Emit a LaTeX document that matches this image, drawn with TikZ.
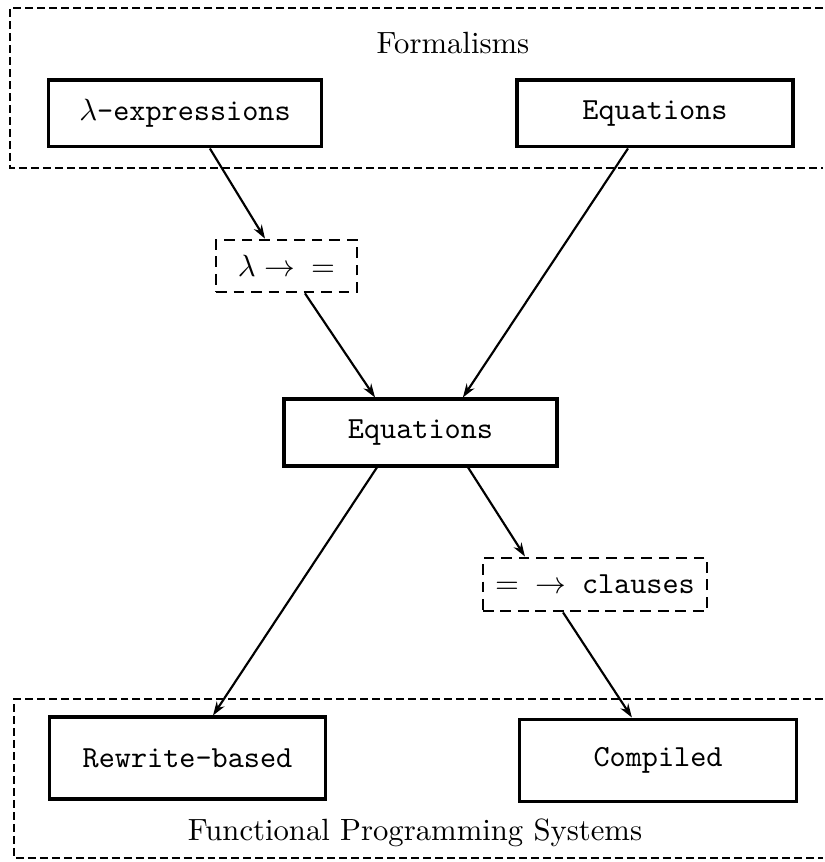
\documentclass[tikz,border=0pt]{standalone}
\usetikzlibrary{arrows.meta}
\begin{document}
\begin{tikzpicture}[x=0.3257pt, y=-0.3257pt,
  box/.style={draw, line width=1pt, inner sep=0pt, font=\ttfamily},
  stagebox/.style={draw, line width=0.9pt, dash pattern=on 3.5pt off 2.2pt, inner sep=0pt, font=\ttfamily},
  frame/.style={line width=0.7pt, dash pattern=on 2.6pt off 1.3pt},
  arr/.style={-{Stealth[length=4.5pt,width=3pt]}, line width=0.7pt}]
\useasboundingbox (0,0) rectangle (824,862);
\draw[frame] (823,8) -- (10,8) -- (10,168) -- (823,168);
\draw[frame] (823,699) -- (14,699) -- (14,858) -- (823,858);
\node (formal) at (453,43){Formalisms};
\node (fps) at (415,833){Functional Programming Systems};
\node[box, minimum width=89.2pt, minimum height=21.8pt] (lexpr) at (185,113.5){$\lambda$-expressions};
\node[box, minimum width=89.9pt, minimum height=21.8pt] (eqtop) at (655,113.5){Equations};
\node[stagebox, minimum width=45.9pt, minimum height=16.9pt] (ltoeq) at (286.5,266){$\lambda\rightarrow$\ $=$};
\node[box, minimum width=88.9pt, minimum height=21.8pt] (eqmid) at (420.5,432.5){Equations};
\node[stagebox, minimum width=73pt, minimum height=17.3pt] (eqtocl) at (595,584.5){$=$\ $\rightarrow$\ clauses};
\node[box, minimum width=89.6pt, minimum height=26.7pt] (rewrite) at (187.5,758){Rewrite-based};
\node[box, minimum width=90.5pt, minimum height=27pt] (compiled) at (658,760.5){Compiled};
\draw[arr] ([xshift=8.1pt]lexpr.south) -- ([xshift=-7pt]ltoeq.north);
\draw[arr] ([xshift=6pt]ltoeq.south) -- ([xshift=-14.8pt]eqmid.north);
\draw[arr] ([xshift=-8.8pt]eqtop.south) -- ([xshift=13.8pt]eqmid.north);
\draw[arr] ([xshift=-14.2pt]eqmid.south) -- ([xshift=8.3pt]rewrite.north);
\draw[arr] ([xshift=15.5pt]eqmid.south) -- ([xshift=-22.8pt]eqtocl.north);
\draw[arr] ([xshift=-10.4pt]eqtocl.south) -- ([xshift=-8.5pt]compiled.north);

\end{tikzpicture}
\end{document}
